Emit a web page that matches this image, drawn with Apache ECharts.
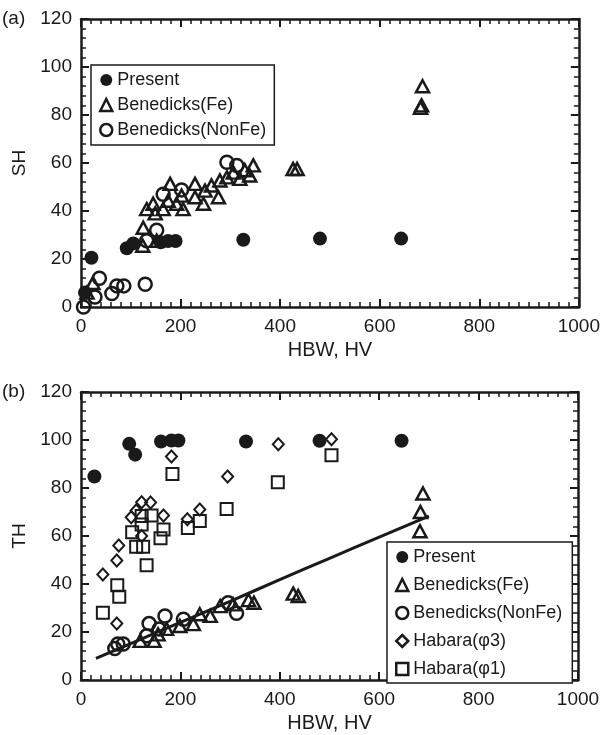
<!DOCTYPE html>
<html>
<head>
<meta charset="utf-8">
<title>SH / TH vs HBW, HV</title>
<script src="https://cdn.jsdelivr.net/npm/echarts@6/dist/echarts.min.js"></script>
<style>
html, body { margin: 0; padding: 0; background: #fff; }
#main { width: 603px; height: 735px; }
</style>
</head>
<body>
<div id="main"></div>
<script>
// ---- data: [HBW/HV, value] ----
var seriesNames = ['Present', 'Benedicks(Fe)', 'Benedicks(NonFe)', 'Habara(φ3)', 'Habara(φ1)'];

// (a) SH
var presentSH = [[8,6],[21,20.5],[92,24.5],[105,26.5],[160,27],[175,27.5],[190,27.5],[326,28],[480,28.5],[643,28.5]];
var feSH = [[12,6],[24,10],[124,25.5],[125,33],[132,40.8],[145,43],[149,39],[152,27.6],[165,40.8],[175,44.3],[179,51.3],
  [192,43],[202,46.4],[205,40.8],[229,51.3],[229,45.7],[246,43],[249,48.5],[262,50.6],[276,45.7],[279,52.7],[293,54],
  [306,56],[319,53.4],[329,57],[339,54.8],[346,59],[426,57.5],[434,57.5],[682,83],[684,84],[686,92]];
var nonFeSH = [[5,0],[28,4.2],[37,12],[62,5.6],[72,8.8],[86,8.8],[129,9.5],[132,27.6],[152,32],[165,47],[202,48.8],[293,60.3],[313,59]];

// (b) TH
var presentTH = [[27,84.8],[97,98.4],[109,93.9],[161,99.4],[182,99.8],[196,99.8],[332,99.4],[480,99.7],[645,99.7]];
var feTH = [[119,16.3],[147,16.3],[155,19],[172,21.3],[199,22.5],[226,23.3],[239,27.4],[260,26.7],[280,30.8],[306,31.5],
  [337,33.3],[348,32.2],[427,36],[437,35],[682,62],[683,70],[688,77.7]];
var nonFeTH = [[68,13.1],[74,15],[85,15],[132,18.4],[137,23.5],[157,21.2],[169,26.7],[206,25.3],[296,32.2],[313,27.8]];
var habara3TH = [[44,44],[72,49.8],[76,56],[72,23.5],[101,67.8],[111,70.6],[122,74.1],[122,60],[140,74],[166,68.5],
  [182,93.1],[214,67],[239,71],[295,84.8],[397,98.2],[504,100.3]];
var habara1TH = [[44,28],[73,39.5],[77,34.7],[103,61.6],[111,55.5],[122,64.8],[122,68.3],[125,55.5],[132,47.8],[142,68.5],
  [160,59.1],[166,62.7],[184,85.8],[215,63.3],[239,66.2],[293,71.2],[396,82.4],[504,93.6]];
var fitTH = [[30,9],[100,15.2],[200,24],[300,32.8],[400,41.8],[500,50.7],[600,59.5],[700,68.3]];

var xTicks = { min: 0, max: 1000, interval: 200 };
var yTicks = { min: 0, max: 120, interval: 20 };

var ink = '#1a1a1a';
var font = 'Liberation Sans, Arial, Helvetica, sans-serif';

var myChart = echarts.init(document.getElementById('main'));

function plain(v) { return String(v); }

function makeX(grid, pos, name) {
	return {
		type: 'value', gridIndex: grid, position: pos,
		min: xTicks.min, max: xTicks.max, interval: xTicks.interval,
		name: name, nameLocation: 'middle', nameGap: 33,
		nameTextStyle: { color: ink, fontSize: 20, fontFamily: font },
		axisLine: { show: true, onZero: false, lineStyle: { color: ink, width: 2.5 } },
		axisTick: { show: true, inside: true, length: 8, lineStyle: { color: ink, width: 2 } },
		minorTick: { show: true, splitNumber: 10, length: 5, lineStyle: { color: ink, width: 1.5 } },
		axisLabel: { show: pos === 'bottom', formatter: plain, margin: 10, color: ink, fontSize: 19, fontFamily: font },
		splitLine: { show: false }
	};
}
function makeY(grid, pos, name) {
	return {
		type: 'value', gridIndex: grid, position: pos,
		min: yTicks.min, max: yTicks.max, interval: yTicks.interval,
		name: name, nameLocation: 'middle', nameGap: 51,
		nameTextStyle: { color: ink, fontSize: 19, fontFamily: font },
		axisLine: { show: true, onZero: false, lineStyle: { color: ink, width: 2.5 } },
		axisTick: { show: true, inside: true, length: 8, lineStyle: { color: ink, width: 2 } },
		minorTick: { show: true, splitNumber: 5, length: 5, lineStyle: { color: ink, width: 1.5 } },
		axisLabel: { show: pos === 'left', formatter: plain, margin: 9, color: ink, fontSize: 19, fontFamily: font },
		splitLine: { show: false }
	};
}

var hollow = { color: 'transparent', borderColor: ink, borderWidth: 2.5, opacity: 1 };
var hollowThin = { color: 'transparent', borderColor: ink, borderWidth: 2, opacity: 1 };
var filled = { color: ink, borderWidth: 0, opacity: 1 };

function sc(name, grid, data, symbol, size, style) {
	return {
		name: name, type: 'scatter', xAxisIndex: grid * 2, yAxisIndex: grid * 2,
		data: data, symbol: symbol, symbolSize: size, itemStyle: style
	};
}

var legendBase = {
	orient: 'vertical', itemWidth: 12, itemHeight: 12,
	borderColor: ink, borderWidth: 1.5, backgroundColor: '#fff',
	itemStyle: { borderWidth: 2.5 },
	textStyle: { color: ink, fontSize: 18, fontFamily: font },
	selectedMode: false
};

var option = {
	animation: false,
	backgroundColor: '#fff',
	grid: [
		{ left: 81, top: 19, width: 498, height: 288 },
		{ left: 81, top: 392, width: 497, height: 288 }
	],
	xAxis: [ makeX(0, 'bottom', 'HBW, HV'), makeX(0, 'top', ''), makeX(1, 'bottom', 'HBW, HV'), makeX(1, 'top', '') ],
	yAxis: [ makeY(0, 'left', 'SH'), makeY(0, 'right', ''), makeY(1, 'left', 'TH'), makeY(1, 'right', '') ],
	legend: [
		Object.assign({}, legendBase, {
			left: 91, top: 65, padding: [6, 8, 6, 8], itemGap: 7,
			data: seriesNames.slice(0, 3)
		}),
		Object.assign({}, legendBase, {
			left: 387, top: 542, padding: [6, 10, 5, 8], itemGap: 10,
			data: seriesNames
		})
	],
	graphic: [
		{ type: 'text', left: 2, top: 9, style: { text: '(a)', fill: ink, fontSize: 19, fontFamily: font } },
		{ type: 'text', left: 2, top: 382, style: { text: '(b)', fill: ink, fontSize: 19, fontFamily: font } }
	],
	series: [
		sc(seriesNames[1], 0, feSH, 'triangle', [13, 12], hollow),
		sc(seriesNames[2], 0, nonFeSH, 'circle', 13, hollow),
		sc(seriesNames[0], 0, presentSH, 'circle', 14, filled),
		{
			name: 'fit', type: 'line', xAxisIndex: 2, yAxisIndex: 2, data: fitTH,
			smooth: true, showSymbol: false, symbol: 'none',
			lineStyle: { color: ink, width: 3 }
		},
		sc(seriesNames[1], 1, feTH, 'triangle', [13, 12], hollow),
		sc(seriesNames[2], 1, nonFeTH, 'circle', 13, hollow),
		sc(seriesNames[3], 1, habara3TH, 'diamond', [11, 12], hollowThin),
		sc(seriesNames[4], 1, habara1TH, 'rect', 12, hollowThin),
		sc(seriesNames[0], 1, presentTH, 'circle', 14, filled)
	]
};

myChart.setOption(option);
</script>
</body>
</html>
